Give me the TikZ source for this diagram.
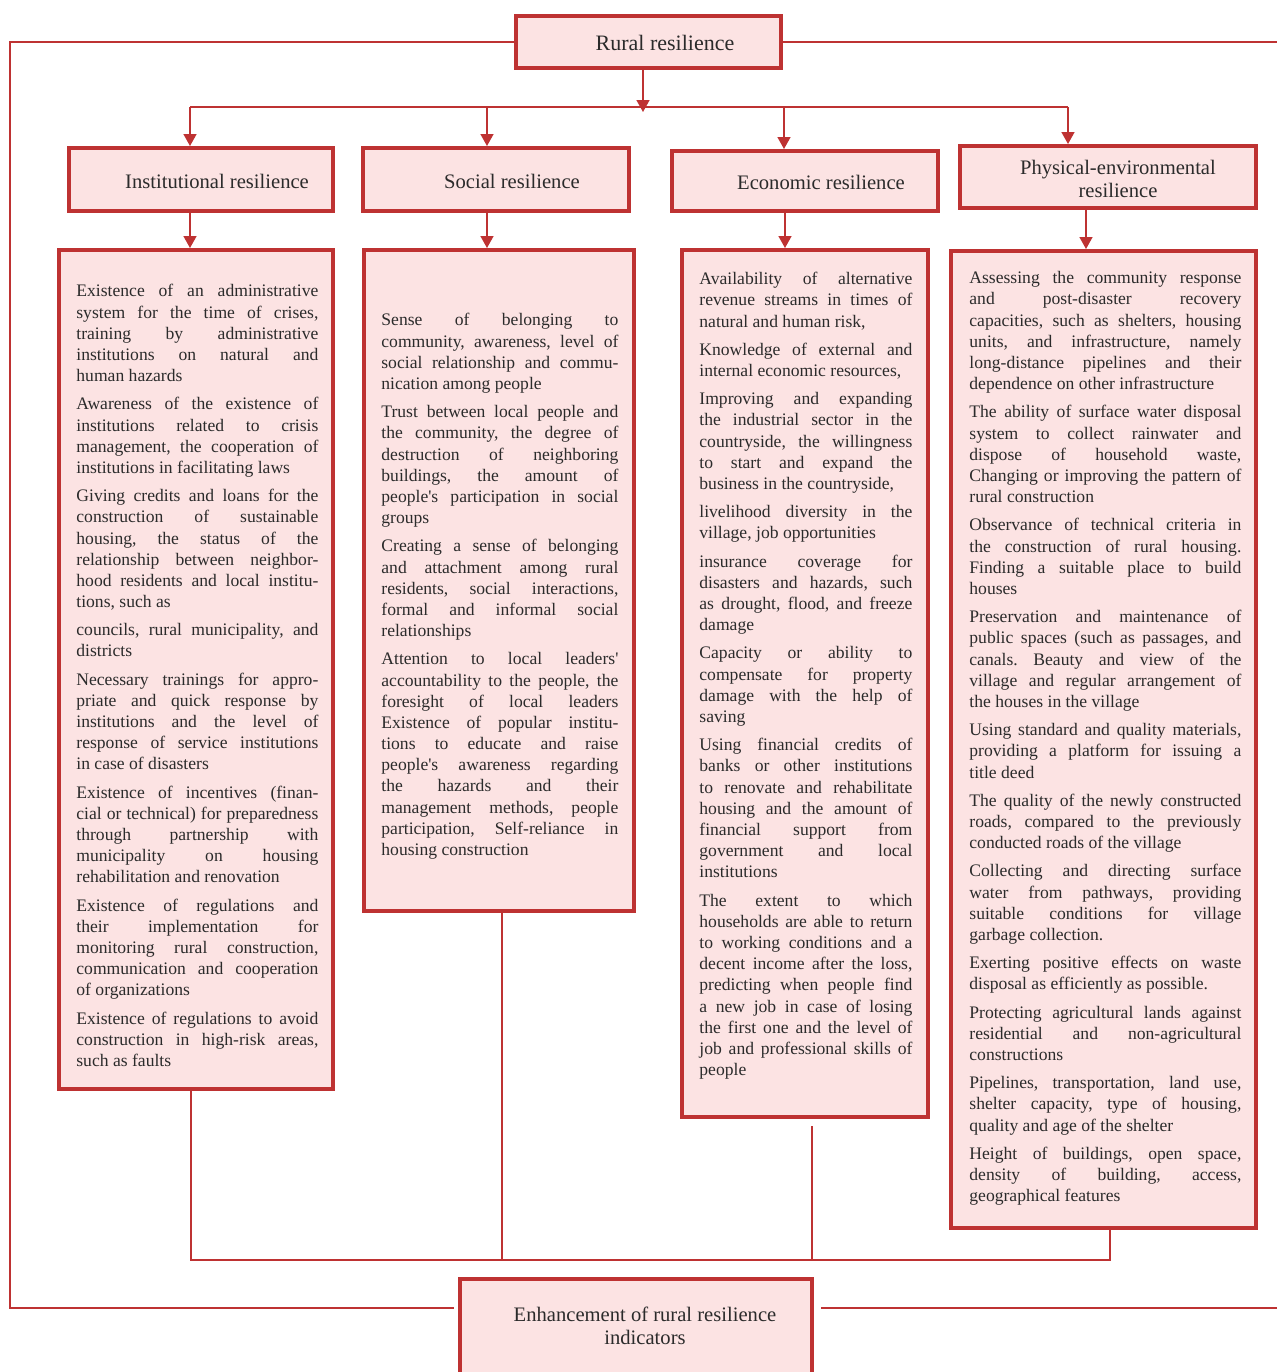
\documentclass[tikz,border=0pt]{standalone}
\usepackage{fontspec}
\setmainfont{Liberation Serif}
\usetikzlibrary{arrows.meta,fit}

\definecolor{framered}{HTML}{BE3232}
\definecolor{boxpink}{HTML}{FCE3E3}
\definecolor{textgrey}{HTML}{2B2B2B}
\newcommand{\lb}{\linebreak}
\newcommand{\q}{\textquotesingle}
\tolerance=10000
\hbadness=10000
\frenchspacing

\begin{document}
\begin{tikzpicture}[x=0.5pt,y=-0.5pt,
  box/.style={draw=framered, fill=boxpink, line width=2pt, inner sep=0pt},
  head/.style={text=textgrey, inner sep=0pt, align=center, font=\fontsize{10.3}{11.5}\selectfont},
  item/.style={anchor=north west, text=textgrey, inner sep=0pt, align=justify,
    font=\fontsize{8.8}{10.6}\selectfont\frenchspacing\setlength{\parskip}{3.5pt}},
  link/.style={draw=framered, line width=0.8pt},
  arr/.style={link, -{Triangle[width=6.5pt,length=6pt]}}]
		%%%%% FRAME %%%%%
		\useasboundingbox (0,0) rectangle (1277,1372);
		\clip (0,0) rectangle (1277,1372);
		
		%%%%% BOXES %%%%%
		\node[box, fit={(516,16) (781,68)}] (rural) {};
		\node[head, font=\fontsize{11}{12}\selectfont] at (665,43) {Rural resilience};
		
		\node[box, fit={(69,148) (333,211)}] (insth) {};
		\node[head] at (217,181) {Institutional resilience};
		\node[box, fit={(363,148) (629,211)}] (soch) {};
		\node[head] at (512,181) {Social resilience};
		\node[box, fit={(672,151) (938,211)}] (ecoh) {};
		\node[head] at (821,182) {Economic resilience};
		\node[box, fit={(960,146) (1256,208)}] (phyh) {};
		\node[head] at (1118,179) {Physical-environmental\\resilience};
		
		\node[box, fit={(59,250) (333,1089)}] (instl) {};
		\node[box, fit={(364,250) (634,911)}] (socl) {};
		\node[box, fit={(682,250) (928,1117)}] (ecol) {};
		\node[box, fit={(951,251) (1256,1228)}] (phyl) {};
		
		\node[box, fit={(460,1279) (812,1400)}] (enh) {};
		\node[head] at (645,1326) {Enhancement of rural resilience\\indicators};
		
		%%%%% TEXTS %%%%%
		\node[item, text width=121pt] (insttxt) at (76,284) {Existence of an administrative\lb system for the time of crises,\lb training by administrative\lb institutions on natural and\lb human hazards\par
		Awareness of the existence of\lb institutions related to crisis\lb management, the cooperation of\lb institutions in facilitating laws\par
		Giving credits and loans for the\lb construction of sustainable\lb housing, the status of the\lb relationship between neighbor-\lb hood residents and local institu-\lb tions, such as\par
		councils, rural municipality, and\lb districts\par
		Necessary trainings for appro-\lb priate and quick response by\lb institutions and the level of\lb response of service institutions\lb in case of disasters\par
		Existence of incentives (finan-\lb cial or technical) for preparedness\lb through partnership with\lb municipality on housing\lb rehabilitation and renovation\par
		Existence of regulations and\lb their implementation for\lb monitoring rural construction,\lb communication and cooperation\lb of organizations\par
		Existence of regulations to avoid\lb construction in high-risk areas,\lb such as faults};
		
		\node[item, text width=118.5pt] (soctxt) at (381,313) {Sense of belonging to\lb community, awareness, level of\lb social relationship and commu-\lb nication among people\par
		Trust between local people and\lb the community, the degree of\lb destruction of neighboring\lb buildings, the amount of\lb people\q s participation in social\lb groups\par
		Creating a sense of belonging\lb and attachment among rural\lb residents, social interactions,\lb formal and informal social\lb relationships\par
		Attention to local leaders\q\lb accountability to the people, the\lb foresight of local leaders\lb Existence of popular institu-\lb tions to educate and raise\lb people\q s awareness regarding\lb the hazards and their\lb management methods, people\lb participation, Self-reliance in\lb housing construction};
		
		\node[item, text width=106.5pt] (ecotxt) at (699,272) {Availability of alternative\lb revenue streams in times of\lb natural and human risk,\par
		Knowledge of external and\lb internal economic resources,\par
		Improving and expanding\lb the industrial sector in the\lb countryside, the willingness\lb to start and expand the\lb business in the countryside,\par
		livelihood diversity in the\lb village, job opportunities\par
		insurance coverage for\lb disasters and hazards, such\lb as drought, flood, and freeze\lb damage\par
		Capacity or ability to\lb compensate for property\lb damage with the help of\lb saving\par
		Using financial credits of\lb banks or other institutions\lb to renovate and rehabilitate\lb housing and the amount of\lb financial support from\lb government and local\lb institutions\par
		The extent to which\lb households are able to return\lb to working conditions and a\lb decent income after the loss,\lb predicting when people find\lb a new job in case of losing\lb the first one and the level of\lb job and professional skills of\lb people};
		
		\node[item, text width=136pt] (phytxt) at (969,271) {Assessing the community response\lb and post-disaster recovery\lb capacities, such as shelters, housing\lb units, and infrastructure, namely\lb long-distance pipelines and their\lb dependence on other infrastructure\par
		The ability of surface water disposal\lb system to collect rainwater and\lb dispose of household waste,\lb Changing or improving the pattern of\lb rural construction\par
		Observance of technical criteria in\lb the construction of rural housing.\lb Finding a suitable place to build\lb houses\par
		Preservation and maintenance of\lb public spaces (such as passages, and\lb canals. Beauty and view of the\lb village and regular arrangement of\lb the houses in the village\par
		Using standard and quality materials,\lb providing a platform for issuing a\lb title deed\par
		The quality of the newly constructed\lb roads, compared to the previously\lb conducted roads of the village\par
		Collecting and directing surface\lb water from pathways, providing\lb suitable conditions for village\lb garbage collection.\par
		Exerting positive effects on waste\lb disposal as efficiently as possible.\par
		Protecting agricultural lands against\lb residential and non-agricultural\lb constructions\par
		Pipelines, transportation, land use,\lb shelter capacity, type of housing,\lb quality and age of the shelter\par
		Height of buildings, open space,\lb density of building, access,\lb geographical features};
		
		%%%%% CONNECTORS %%%%%
		\coordinate (fl) at (10,1308);
		\coordinate (fr) at (1290,40);
		\coordinate (brl) at (454,1308);
		\coordinate (brr) at (821,1308);
		\draw[link] (rural.west) -| (fl) -- (brl);
		\draw[link] (rural.east) -- (rural.east -| fr);
		\draw[link] (brr) -- (brr -| fr);
		
		\coordinate (xm) at (643,0);
		\coordinate (bus) at (0,107);
		\coordinate (b1) at (190,107);
		\coordinate (b2) at (487,107);
		\coordinate (b3) at (784,107);
		\coordinate (b4) at (1068,107);
		\draw[arr] (xm |- rural.south) -- ([yshift=-2.5pt]xm |- bus);
		\draw[link] (b1) -- (b4);
		\draw[arr] (b1) -- (b1 |- insth.north);
		\draw[arr] (b2) -- (b2 |- soch.north);
		\draw[arr] (b3) -- (b3 |- ecoh.north);
		\draw[arr] (b4) -- (b4 |- phyh.north);
		
		\coordinate (d1) at (190,0);
		\coordinate (d2) at (487,0);
		\coordinate (d3) at (785,0);
		\coordinate (d4) at (1086,0);
		\draw[arr] (d1 |- insth.south) -- (d1 |- instl.north);
		\draw[arr] (d2 |- soch.south) -- (d2 |- socl.north);
		\draw[arr] (d3 |- ecoh.south) -- (d3 |- ecol.north);
		\draw[arr] (d4 |- phyh.south) -- (d4 |- phyl.north);
		
		\coordinate (sink) at (0,1260);
		\coordinate (k1) at (191,0);
		\coordinate (k2) at (502,0);
		\coordinate (k3) at (812,0);
		\coordinate (k4) at (1110,0);
		\draw[link] (k1 |- instl.south) -- (k1 |- sink) -- (k4 |- sink) -- (k4 |- phyl.south);
		\draw[link] (k2 |- socl.south) -- (k2 |- sink);
		\draw[link, shorten <=3.5pt] (k3 |- ecol.south) -- (k3 |- sink);
\end{tikzpicture}
\end{document}
